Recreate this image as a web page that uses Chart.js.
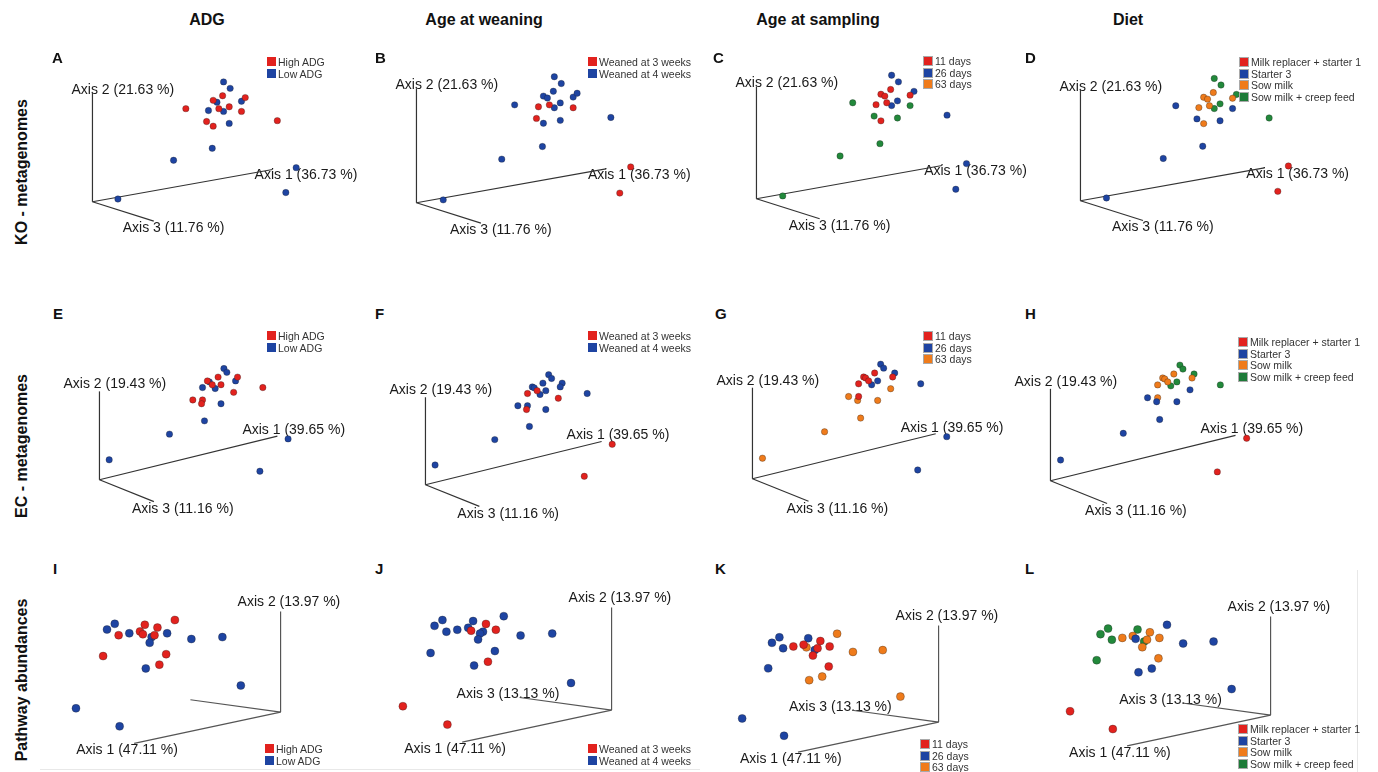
<!DOCTYPE html>
<html>
<head>
<meta charset="utf-8">
<script src="https://cdn.jsdelivr.net/npm/chart.js"></script>
<style>
  body { margin:0; background:#fff; width:1378px; height:772px; overflow:hidden; position:relative;
         font-family:"Liberation Sans", Arial, sans-serif; color:#111; }
  canvas { position:absolute; }
  .hdr { position:absolute; top:12px; font-weight:bold; font-size:16px; line-height:16px; transform:translateX(-50%); white-space:nowrap; }
  .rowlab { position:absolute; width:240px; height:20px; line-height:20px; font-weight:bold; font-size:16px; text-align:center; transform:rotate(-90deg); white-space:nowrap; }
  .letter { position:absolute; font-weight:bold; font-size:15px; line-height:15px; }
  .lg { position:absolute; font-size:10.5px; color:#333; }
  .lg div { display:flex; align-items:center; height:11.7px; white-space:nowrap; }
  .lg .sw { display:inline-block; width:9px; height:9px; margin-right:2px; box-sizing:border-box; }
  .lg.boxed .sw { width:10px; height:10px; border:1px solid #a9a9a9; }
  .rule { position:absolute; background:#e8e8e8; }
</style>
</head>
<body>
<div class="hdr" style="left:207px">ADG</div>
<div class="hdr" style="left:484px">Age at weaning</div>
<div class="hdr" style="left:818px">Age at sampling</div>
<div class="hdr" style="left:1128px">Diet</div>

<div class="rowlab" style="left:-98px; top:162px">KO - metagenomes</div>
<div class="rowlab" style="left:-98px; top:436px">EC - metagenomes</div>
<div class="rowlab" style="left:-98px; top:670px">Pathway abundances</div>

<div class="rule" style="left:40px; top:769px; width:660px; height:1px"></div>
<div class="rule" style="left:1357px; top:570px; width:1px; height:202px"></div>

<script>
// projected PCoA scores (same ordination in every panel of a row)
const koX = [139, 146, 138, 128, 132, 158, 162, 99, 123, 134, 145, 139, 158, 121, 128, 145, 196, 127, 86, 216, 205, 27];
const koY = [130, 123, 115, 110, 108, 109, 113, 101, 99, 101, 103, 98, 98, 87, 82, 85, 88, 58, 45, 37, 10, 3];
const koAxes = [[191, 35], [0, 118], [65, -21]];
const koPct = ['36.73', '21.63', '11.76'];

const ecX = [128, 131, 122, 142, 140, 111, 113, 116, 125, 106, 119, 168, 138, 96, 106, 105, 125, 108, 72, 194, 10, 165];
const ecY = [117, 113, 108, 108, 104, 104, 103, 100, 100, 97, 96, 97, 92, 84, 84, 80, 80, 62, 48, 43, 21, 9];
const ecAxes = [[183, 46], [0, 93], [56, -23]];
const ecPct = ['39.65', '19.43', '11.16'];

const pwX = [-109, -171, -140, -179, -127, -145, -142, -167, -156, -130, -133, -117, -135, -92, -60, -183, -118, -125, -139, -41, -211, -166];
const pwY = [97, 93, 92, 87, 89, 85, 82, 81, 83, 81, 79, 83, 73, 77, 79, 59, 61, 50, 46, 28, 4, -15];
const pwAxes = [[-151, -33], [0, 106], [-93, 13]];
const pwPct = ['47.11', '13.97', '13.13'];

// sample groups
const adgNames = ['High ADG', 'Low ADG'];
const weanNames = ['Weaned at 3 weeks', 'Weaned at 4 weeks'];
const ageNames = ['11 days', '26 days', '63 days'];
const dietNames = ['Milk replacer + starter 1', 'Starter 3', 'Sow milk', 'Sow milk + creep feed'];

const adgKO  = [1,1,0,0,1,1,0,0,1,0,0,1,0,0,0,1,0,1,1,1,1,1];
const weanKO = [1,1,1,1,1,1,1,1,0,0,1,1,0,0,1,1,1,1,1,0,0,1];
const ageKO  = [1,1,0,0,0,0,1,2,0,0,1,1,2,2,0,2,1,2,2,1,1,2];
const dietKO = [3,3,2,2,2,2,3,1,2,2,3,3,1,1,2,1,3,1,1,0,0,1];

const adgEC  = [1,1,0,0,1,0,1,0,0,1,1,0,0,0,0,0,1,1,1,1,1,1];
const weanEC = [1,1,1,1,1,1,1,0,1,0,1,1,0,1,1,0,1,1,1,0,1,0];
const ageEC  = [1,1,0,1,0,0,0,0,1,0,1,1,2,2,0,2,2,2,2,1,2,1];
const dietEC = [3,3,2,3,2,2,2,2,3,2,3,3,1,1,2,1,1,1,1,0,1,0];

const adgPW  = [0,1,0,1,0,0,0,0,1,0,1,1,1,1,1,0,0,0,1,1,1,1];
const weanPW = [1,1,1,1,0,1,0,1,1,1,1,0,1,1,1,1,1,0,1,1,0,0];
const agePW  = [2,1,1,1,0,0,2,1,0,0,1,0,0,2,2,1,0,2,2,2,1,1];
const dietPW = [1,3,3,3,2,2,1,3,2,2,3,2,2,1,1,3,2,1,1,1,0,0];

const RED = '#e2221e', BLUE = '#1e44a2', ORANGE = '#ef7b1b', GREEN = '#22893b';
const LGREEN = '#1e7a38';

// axis captions drawn at the axis ends, under the points
const axisLabels = {
    id: 'axisLabels',
    beforeDatasetsDraw(chart, args, opts) {
        const ctx = chart.ctx, x = chart.scales.x, y = chart.scales.y;
        ctx.save();
        ctx.font = '14px "Liberation Sans", Arial, sans-serif';
        ctx.fillStyle = '#1a1a1a';
        ctx.textBaseline = 'middle';
        opts.items.forEach(function(it) {
            ctx.fillText(it.text, x.getPixelForValue(it.at[0]) + it.dx, y.getPixelForValue(it.at[1]) + it.dy);
        });
        ctx.restore();
    }
};

const rowStyle = {
    ko: { xs: koX, ys: koY, axes: koAxes, pct: koPct, win: [-45, 295], hin: [-50, 140], r: 3.2, line: '#333',
          off: [[-18, 6], [-21, -3], [-31, 7]] },
    ec: { xs: ecX, ys: ecY, axes: ecAxes, pct: ecPct, win: [-45, 295], hin: [-50, 140], r: 3.2, line: '#333',
          off: [[-35, -6], [-36, -7], [-22, 8]] },
    pw: { xs: pwX, ys: pwY, axes: pwAxes, pct: pwPct, win: [-235, 75], hin: [-55, 130], r: 4, line: '#555',
          off: [[-58, 7], [-43, -9], [-63, -3]] }
};

function legend(x, y, names, colors, boxed) {
    const d = document.createElement('div');
    d.className = 'lg' + (boxed ? ' boxed' : '');
    d.style.left = x + 'px';
    d.style.top = y + 'px';
    names.forEach(function(n, i) {
        d.innerHTML += '<div><span class="sw" style="background:' + colors[i] + '"></span>' + n + '</div>';
    });
    document.body.appendChild(d);
}

function letter(t, x, y) {
    const d = document.createElement('div');
    d.className = 'letter';
    d.textContent = t;
    d.style.left = x + 'px';
    d.style.top = y + 'px';
    document.body.appendChild(d);
}

function panel(row, groups, names, colors, ox, oy, k, noAxis3) {
    const s = rowStyle[row];
    const canvas = document.createElement('canvas');
    canvas.width = s.win[1] - s.win[0];
    canvas.height = s.hin[1] - s.hin[0];
    canvas.style.left = (ox + s.win[0]) + 'px';
    canvas.style.top = (oy - s.hin[1]) + 'px';
    document.body.appendChild(canvas);

    const datasets = [];
    names.forEach(function(name, g) {
        const pts = [];
        s.xs.forEach(function(v, i) {
            if (groups[i] === g) pts.push({ x: v, y: s.ys[i] });
        });
        datasets.push({
            label: name, data: pts, backgroundColor: colors[g],
            borderColor: 'rgba(30,30,30,0.45)', borderWidth: 0.7,
            pointRadius: s.r, order: 1, clip: false
        });
    });
    s.axes.forEach(function(a) {
        datasets.push({
            data: [{ x: 0, y: 0 }, { x: a[0], y: a[1] }], showLine: true, pointRadius: 0,
            borderColor: s.line, borderWidth: 1.2, order: 5, clip: false
        });
    });

    const items = [];
    s.axes.forEach(function(a, i) {
        if (i === 2 && noAxis3) return;
        items.push({ text: 'Axis ' + (i + 1) + ' (' + s.pct[i] + ' %)', at: a, dx: s.off[i][0], dy: s.off[i][1] });
    });

    new Chart(canvas, {
        type: 'scatter',
        data: { datasets: datasets },
        options: {
            responsive: false,
            animation: false,
            events: [],
            layout: { padding: 0 },
            scales: {
                x: { display: false, min: s.win[0] / k, max: s.win[1] / k },
                y: { display: false, min: s.hin[0] / k, max: s.hin[1] / k }
            },
            plugins: {
                legend: { display: false },
                tooltip: { enabled: false },
                axisLabels: { items: items }
            }
        },
        plugins: [axisLabels]
    });
}

// KO - metagenomes
panel('ko', adgKO, adgNames, [RED, BLUE], 89, 204, 0.97);
panel('ko', weanKO, weanNames, [RED, BLUE], 413, 205, 1.02);
panel('ko', ageKO, ageNames, [RED, BLUE, GREEN], 753, 201, 1.0);
panel('ko', dietKO, dietNames, [RED, BLUE, ORANGE, GREEN], 1077, 203, 0.99);
// EC - metagenomes
panel('ec', adgEC, adgNames, [RED, BLUE], 96, 482, 1.0);
panel('ec', weanEC, weanNames, [RED, BLUE], 422, 487, 0.99);
panel('ec', ageEC, ageNames, [RED, BLUE, ORANGE], 749, 481, 1.03);
panel('ec', dietEC, dietNames, [RED, BLUE, ORANGE, GREEN], 1047, 483, 1.04);
// Pathway abundances
panel('pw', adgPW, adgNames, [RED, BLUE], 283, 714, 1.0, true);
panel('pw', weanPW, weanNames, [RED, BLUE], 614, 712, 1.02);
panel('pw', agePW, ageNames, [RED, BLUE, ORANGE], 941, 724, 0.96);
panel('pw', dietPW, dietNames, [RED, BLUE, ORANGE, GREEN], 1273, 717, 0.98);

legend(267, 56, adgNames, [RED, BLUE], false);
legend(588, 56, weanNames, [RED, BLUE], false);
legend(923, 55, ageNames, [RED, BLUE, ORANGE], true);
legend(1239, 56, dietNames, [RED, BLUE, ORANGE, LGREEN], true);
legend(267, 330, adgNames, [RED, BLUE], false);
legend(588, 330, weanNames, [RED, BLUE], false);
legend(923, 330, ageNames, [RED, BLUE, ORANGE], true);
legend(1238, 336, dietNames, [RED, BLUE, ORANGE, LGREEN], true);
legend(265, 743, adgNames, [RED, BLUE], false);
legend(588, 743, weanNames, [RED, BLUE], false);
legend(920, 738, ageNames, [RED, BLUE, ORANGE], true);
legend(1238, 723, dietNames, [RED, BLUE, ORANGE, LGREEN], true);

letter('A', 52, 50); letter('B', 375, 50); letter('C', 713, 50); letter('D', 1025, 50);
letter('E', 53, 306); letter('F', 375, 306); letter('G', 715, 306); letter('H', 1025, 306);
letter('I', 53, 561); letter('J', 375, 561); letter('K', 715, 561); letter('L', 1025, 561);
</script>
</body>
</html>
